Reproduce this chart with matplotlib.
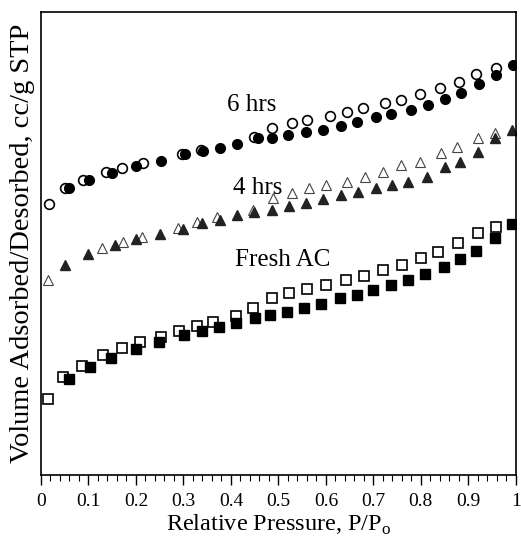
import numpy as np
import matplotlib
matplotlib.use("Agg")
import matplotlib.pyplot as plt

plt.rcParams['font.family'] = ['Liberation Serif', 'DejaVu Serif']
plt.rcParams['mathtext.fontset'] = 'custom'
plt.rcParams['mathtext.rm'] = 'Liberation Serif'

# isotherm data (y in arbitrary units, curves offset as in the figure)
p_fresh_ads = [0.060, 0.103, 0.147, 0.200, 0.249, 0.301, 0.340, 0.375, 0.411, 0.451, 0.482,
               0.519, 0.554, 0.589, 0.629, 0.665, 0.700, 0.738, 0.772, 0.808, 0.848, 0.882,
               0.917, 0.956, 0.993]
v_fresh_ads = [96, 108, 117, 126, 133, 140, 144, 148, 152, 157, 160, 163, 167, 171, 177, 180,
               185, 190, 195, 201, 208, 216, 224, 237, 251]
p_fresh_des = [0.015, 0.047, 0.086, 0.131, 0.170, 0.208, 0.252, 0.291, 0.328, 0.363, 0.411,
               0.447, 0.486, 0.523, 0.561, 0.600, 0.642, 0.681, 0.721, 0.761, 0.801, 0.836,
               0.879, 0.921, 0.958]
v_fresh_des = [76, 98, 109, 120, 127, 133, 138, 144, 149, 153, 159, 167, 177, 182, 186, 190,
               195, 199, 205, 210, 217, 223, 232, 242, 248]

p_4h_ads = [0.051, 0.098, 0.156, 0.201, 0.251, 0.300, 0.340, 0.377, 0.412, 0.448, 0.487,
            0.523, 0.558, 0.593, 0.631, 0.668, 0.705, 0.740, 0.773, 0.812, 0.851, 0.882,
            0.921, 0.956, 0.991]
v_4h_ads = [210, 221, 230, 236, 241, 246, 252, 255, 260, 263, 265, 269, 272, 276, 280, 283,
            287, 290, 293, 298, 308, 313, 323, 337, 345]
p_4h_des = [0.015, 0.128, 0.173, 0.212, 0.289, 0.328, 0.370, 0.446, 0.489, 0.528, 0.565,
            0.601, 0.644, 0.682, 0.721, 0.759, 0.798, 0.842, 0.877, 0.921, 0.956]
v_4h_des = [195, 227, 233, 238, 247, 253, 258, 265, 277, 282, 287, 290, 293, 298, 303, 310,
            313, 322, 328, 337, 342]

p_6h_ads = [0.058, 0.102, 0.149, 0.201, 0.252, 0.303, 0.341, 0.377, 0.412, 0.458, 0.487,
            0.521, 0.558, 0.593, 0.631, 0.666, 0.705, 0.738, 0.779, 0.815, 0.851, 0.884,
            0.922, 0.958, 0.994]
v_6h_ads = [287, 295, 302, 309, 314, 321, 324, 327, 331, 337, 337, 340, 343, 345, 349, 353,
            358, 361, 365, 370, 376, 382, 391, 400, 410]
p_6h_des = [0.017, 0.051, 0.089, 0.137, 0.170, 0.215, 0.296, 0.338, 0.448, 0.487, 0.528,
            0.561, 0.608, 0.644, 0.679, 0.724, 0.759, 0.798, 0.840, 0.880, 0.917, 0.958]
v_6h_des = [271, 287, 295, 303, 307, 312, 321, 325, 338, 347, 352, 355, 359, 363, 367, 372,
            375, 381, 387, 393, 401, 407]

labels = ["6 hrs", "4 hrs", "Fresh AC"]
label_pos = [(0.444, 370), (0.457, 287), (0.51, 215)]

fig = plt.figure(figsize=(5.21, 5.57), dpi=100)
ax = fig.add_axes([0.0787, 0.147, 0.9113, 0.831])

ms = 7
ax.plot(p_fresh_des, v_fresh_des, 's', mfc='white', mec='black', mew=1.2, ms=ms)
ax.plot(p_fresh_ads, v_fresh_ads, 's', mfc='black', mec='black', ms=ms)
ax.plot(p_4h_des, v_4h_des, '^', mfc='white', mec='#444444', mew=0.8, ms=ms, ls='none')
ax.plot(p_4h_ads, v_4h_ads, '^', mfc='#222222', mec='#222222', ms=ms)
ax.plot(p_6h_des, v_6h_des, 'o', mfc='white', mec='black', mew=1.2, ms=ms)
ax.plot(p_6h_ads, v_6h_ads, 'o', mfc='black', mec='black', ms=ms)

for t, (x, y) in zip(labels, label_pos):
    ax.text(x, y, t, fontsize=18, ha='center', va='center')

ax.set_xlim(0, 1)
ax.set_ylim(0, 463)
ax.set_xticks(np.arange(0, 1.01, 0.1))
ax.set_xticklabels(["0", "0.1", "0.2", "0.3", "0.4", "0.5", "0.6", "0.7", "0.8", "0.9", "1"])
ax.set_xticks(np.arange(0, 1.001, 0.02), minor=True)
ax.set_yticks([])
ax.tick_params(axis='x', which='major', direction='out', length=7, width=1, labelsize=14, pad=6)
ax.tick_params(axis='x', which='minor', direction='out', length=4, width=0.8)
for s in ax.spines.values():
    s.set_linewidth(1.2)

ax.set_xlabel(r"Relative Pressure, P/P$_\mathrm{o}$", fontsize=17.5, labelpad=2)
ax.set_ylabel("Volume Adsorbed/Desorbed, cc/g STP", fontsize=20.5, labelpad=4)

fig.savefig("out.png", dpi=100)
